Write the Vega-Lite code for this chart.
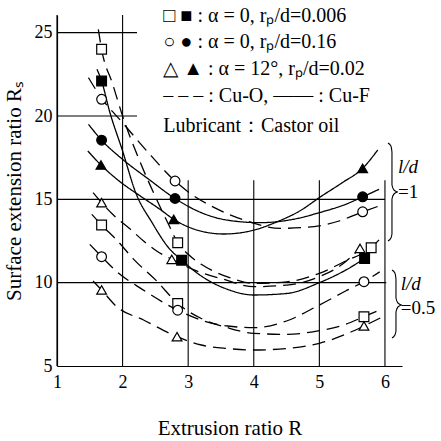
{
  "$schema": "https://vega.github.io/schema/vega-lite/v6.json",
  "width": 345,
  "height": 351,
  "autosize": {"type": "none"},
  "padding": {"left": 57, "top": 15, "right": 39, "bottom": 75},
  "background": "white",
  "config": {
    "view": {"stroke": null},
    "axis": {
      "grid": false, "ticks": false, "domainColor": "black", "domainWidth": 1.2,
      "labelFont": "Liberation Serif", "labelFontSize": 18, "labelColor": "black",
      "titleFont": "Liberation Serif", "titleFontSize": 21, "titleFontWeight": "normal", "titleColor": "black",
      "labelFlush": false
    },
    "text": {"font": "Liberation Serif", "fontSize": 20, "color": "black", "align": "left", "baseline": "middle"}
  },
  "datasets": {
    "grid": [
      {"R": 1, "R2": 1, "Rs": 5, "Rs2": 26.06},
      {"R": 2, "R2": 2, "Rs": 5, "Rs2": 26.06},
      {"R": 3, "R2": 3, "Rs": 5, "Rs2": 16.15},
      {"R": 4, "R2": 4, "Rs": 5, "Rs2": 16.15},
      {"R": 5, "R2": 5, "Rs": 5, "Rs2": 16.15},
      {"R": 6, "R2": 6, "Rs": 5, "Rs2": 16.15},
      {"R": 1, "R2": 2.22, "Rs": 25, "Rs2": 25},
      {"R": 1, "R2": 2.22, "Rs": 20, "Rs2": 20},
      {"R": 1, "R2": 6, "Rs": 15, "Rs2": 15},
      {"R": 1, "R2": 6.02, "Rs": 10, "Rs2": 10}
    ],
    "curves": [
      {"curve": "sq1", "material": "Cu-O", "R": 1.63, "Rs": 25.2},
      {"curve": "sq1", "material": "Cu-O", "R": 1.68, "Rs": 24.0},
      {"curve": "sq1", "material": "Cu-O", "R": 1.85, "Rs": 21.9},
      {"curve": "sq1", "material": "Cu-O", "R": 2.0, "Rs": 20.0},
      {"curve": "sq1", "material": "Cu-O", "R": 2.25, "Rs": 17.4},
      {"curve": "sq1", "material": "Cu-O", "R": 2.53, "Rs": 14.9},
      {"curve": "sq1", "material": "Cu-O", "R": 2.7, "Rs": 13.5},
      {"curve": "sq1", "material": "Cu-O", "R": 2.84, "Rs": 12.4},
      {"curve": "sq1", "material": "Cu-O", "R": 3.0, "Rs": 11.7},
      {"curve": "sq1", "material": "Cu-O", "R": 3.2, "Rs": 11.1},
      {"curve": "sq1", "material": "Cu-O", "R": 3.6, "Rs": 10.35},
      {"curve": "sq1", "material": "Cu-O", "R": 4.0, "Rs": 9.96},
      {"curve": "sq1", "material": "Cu-O", "R": 4.5, "Rs": 10.05},
      {"curve": "sq1", "material": "Cu-O", "R": 5.0, "Rs": 10.56},
      {"curve": "sq1", "material": "Cu-O", "R": 5.4, "Rs": 11.3},
      {"curve": "sq1", "material": "Cu-O", "R": 5.79, "Rs": 12.1},
      {"curve": "sq1", "material": "Cu-O", "R": 5.94, "Rs": 12.7},

      {"curve": "fsq1", "material": "Cu-F", "R": 1.61, "Rs": 22.8},
      {"curve": "fsq1", "material": "Cu-F", "R": 1.68, "Rs": 22.1},
      {"curve": "fsq1", "material": "Cu-F", "R": 1.8, "Rs": 20.3},
      {"curve": "fsq1", "material": "Cu-F", "R": 2.0, "Rs": 17.9},
      {"curve": "fsq1", "material": "Cu-F", "R": 2.2, "Rs": 15.4},
      {"curve": "fsq1", "material": "Cu-F", "R": 2.45, "Rs": 13.6},
      {"curve": "fsq1", "material": "Cu-F", "R": 2.7, "Rs": 12.1},
      {"curve": "fsq1", "material": "Cu-F", "R": 2.9, "Rs": 11.35},
      {"curve": "fsq1", "material": "Cu-F", "R": 3.2, "Rs": 10.4},
      {"curve": "fsq1", "material": "Cu-F", "R": 3.6, "Rs": 9.6},
      {"curve": "fsq1", "material": "Cu-F", "R": 4.0, "Rs": 9.26},
      {"curve": "fsq1", "material": "Cu-F", "R": 4.5, "Rs": 9.35},
      {"curve": "fsq1", "material": "Cu-F", "R": 5.0, "Rs": 10.0},
      {"curve": "fsq1", "material": "Cu-F", "R": 5.4, "Rs": 10.75},
      {"curve": "fsq1", "material": "Cu-F", "R": 5.69, "Rs": 11.45},

      {"curve": "ci1", "material": "Cu-O", "R": 1.48, "Rs": 22.3},
      {"curve": "ci1", "material": "Cu-O", "R": 1.68, "Rs": 21.06},
      {"curve": "ci1", "material": "Cu-O", "R": 2.0, "Rs": 19.6},
      {"curve": "ci1", "material": "Cu-O", "R": 2.37, "Rs": 17.9},
      {"curve": "ci1", "material": "Cu-O", "R": 2.8, "Rs": 16.1},
      {"curve": "ci1", "material": "Cu-O", "R": 3.03, "Rs": 15.36},
      {"curve": "ci1", "material": "Cu-O", "R": 3.4, "Rs": 14.5},
      {"curve": "ci1", "material": "Cu-O", "R": 3.85, "Rs": 13.76},
      {"curve": "ci1", "material": "Cu-O", "R": 4.41, "Rs": 13.26},
      {"curve": "ci1", "material": "Cu-O", "R": 4.92, "Rs": 13.36},
      {"curve": "ci1", "material": "Cu-O", "R": 5.3, "Rs": 13.7},
      {"curve": "ci1", "material": "Cu-O", "R": 5.66, "Rs": 14.25},
      {"curve": "ci1", "material": "Cu-O", "R": 5.91, "Rs": 14.6},

      {"curve": "fci1", "material": "Cu-F", "R": 1.48, "Rs": 19.5},
      {"curve": "fci1", "material": "Cu-F", "R": 1.68, "Rs": 18.55},
      {"curve": "fci1", "material": "Cu-F", "R": 2.0, "Rs": 17.4},
      {"curve": "fci1", "material": "Cu-F", "R": 2.4, "Rs": 16.2},
      {"curve": "fci1", "material": "Cu-F", "R": 2.8, "Rs": 15.05},
      {"curve": "fci1", "material": "Cu-F", "R": 3.2, "Rs": 14.2},
      {"curve": "fci1", "material": "Cu-F", "R": 3.6, "Rs": 13.75},
      {"curve": "fci1", "material": "Cu-F", "R": 4.1, "Rs": 13.6},
      {"curve": "fci1", "material": "Cu-F", "R": 4.6, "Rs": 13.8},
      {"curve": "fci1", "material": "Cu-F", "R": 5.0, "Rs": 14.2},
      {"curve": "fci1", "material": "Cu-F", "R": 5.4, "Rs": 14.7},
      {"curve": "fci1", "material": "Cu-F", "R": 5.66, "Rs": 15.15},
      {"curve": "fci1", "material": "Cu-F", "R": 5.91, "Rs": 15.6},

      {"curve": "ftr1", "material": "Cu-F", "R": 1.47, "Rs": 17.9},
      {"curve": "ftr1", "material": "Cu-F", "R": 1.67, "Rs": 17.06},
      {"curve": "ftr1", "material": "Cu-F", "R": 1.96, "Rs": 16.06},
      {"curve": "ftr1", "material": "Cu-F", "R": 2.27, "Rs": 15.2},
      {"curve": "ftr1", "material": "Cu-F", "R": 2.57, "Rs": 14.4},
      {"curve": "ftr1", "material": "Cu-F", "R": 2.78, "Rs": 13.8},
      {"curve": "ftr1", "material": "Cu-F", "R": 3.1, "Rs": 13.2},
      {"curve": "ftr1", "material": "Cu-F", "R": 3.54, "Rs": 12.92},
      {"curve": "ftr1", "material": "Cu-F", "R": 4.0, "Rs": 13.15},
      {"curve": "ftr1", "material": "Cu-F", "R": 4.36, "Rs": 13.66},
      {"curve": "ftr1", "material": "Cu-F", "R": 4.7, "Rs": 14.3},
      {"curve": "ftr1", "material": "Cu-F", "R": 5.02, "Rs": 15.16},
      {"curve": "ftr1", "material": "Cu-F", "R": 5.35, "Rs": 16.0},
      {"curve": "ftr1", "material": "Cu-F", "R": 5.66, "Rs": 16.86},
      {"curve": "ftr1", "material": "Cu-F", "R": 5.89, "Rs": 17.96},

      {"curve": "tr1", "material": "Cu-O", "R": 1.55, "Rs": 15.4},
      {"curve": "tr1", "material": "Cu-O", "R": 1.68, "Rs": 14.8},
      {"curve": "tr1", "material": "Cu-O", "R": 1.86, "Rs": 14.06},
      {"curve": "tr1", "material": "Cu-O", "R": 2.12, "Rs": 13.2},
      {"curve": "tr1", "material": "Cu-O", "R": 2.32, "Rs": 12.5},
      {"curve": "tr1", "material": "Cu-O", "R": 2.52, "Rs": 11.9},
      {"curve": "tr1", "material": "Cu-O", "R": 2.75, "Rs": 11.4},
      {"curve": "tr1", "material": "Cu-O", "R": 3.1, "Rs": 10.75},
      {"curve": "tr1", "material": "Cu-O", "R": 3.54, "Rs": 10.2},
      {"curve": "tr1", "material": "Cu-O", "R": 4.0, "Rs": 9.76},
      {"curve": "tr1", "material": "Cu-O", "R": 4.5, "Rs": 9.85},
      {"curve": "tr1", "material": "Cu-O", "R": 5.0, "Rs": 10.36},
      {"curve": "tr1", "material": "Cu-O", "R": 5.35, "Rs": 11.1},
      {"curve": "tr1", "material": "Cu-O", "R": 5.62, "Rs": 12.06},

      {"curve": "sq05", "material": "Cu-O", "R": 1.53, "Rs": 14.1},
      {"curve": "sq05", "material": "Cu-O", "R": 1.68, "Rs": 13.46},
      {"curve": "sq05", "material": "Cu-O", "R": 1.91, "Rs": 12.56},
      {"curve": "sq05", "material": "Cu-O", "R": 2.17, "Rs": 11.4},
      {"curve": "sq05", "material": "Cu-O", "R": 2.52, "Rs": 10.1},
      {"curve": "sq05", "material": "Cu-O", "R": 2.84, "Rs": 8.75},
      {"curve": "sq05", "material": "Cu-O", "R": 3.2, "Rs": 7.85},
      {"curve": "sq05", "material": "Cu-O", "R": 3.6, "Rs": 7.3},
      {"curve": "sq05", "material": "Cu-O", "R": 4.0, "Rs": 6.96},
      {"curve": "sq05", "material": "Cu-O", "R": 4.5, "Rs": 6.9},
      {"curve": "sq05", "material": "Cu-O", "R": 5.0, "Rs": 7.12},
      {"curve": "sq05", "material": "Cu-O", "R": 5.4, "Rs": 7.5},
      {"curve": "sq05", "material": "Cu-O", "R": 5.68, "Rs": 7.96},
      {"curve": "sq05", "material": "Cu-O", "R": 5.94, "Rs": 8.4},

      {"curve": "ci05", "material": "Cu-O", "R": 1.5, "Rs": 12.3},
      {"curve": "ci05", "material": "Cu-O", "R": 1.68, "Rs": 11.56},
      {"curve": "ci05", "material": "Cu-O", "R": 1.9, "Rs": 10.7},
      {"curve": "ci05", "material": "Cu-O", "R": 2.3, "Rs": 9.6},
      {"curve": "ci05", "material": "Cu-O", "R": 2.84, "Rs": 8.35},
      {"curve": "ci05", "material": "Cu-O", "R": 3.2, "Rs": 7.75},
      {"curve": "ci05", "material": "Cu-O", "R": 3.6, "Rs": 7.4},
      {"curve": "ci05", "material": "Cu-O", "R": 4.0, "Rs": 7.3},
      {"curve": "ci05", "material": "Cu-O", "R": 4.5, "Rs": 7.7},
      {"curve": "ci05", "material": "Cu-O", "R": 5.0, "Rs": 8.66},
      {"curve": "ci05", "material": "Cu-O", "R": 5.4, "Rs": 9.5},
      {"curve": "ci05", "material": "Cu-O", "R": 5.68, "Rs": 10.06},
      {"curve": "ci05", "material": "Cu-O", "R": 5.92, "Rs": 10.65},

      {"curve": "tr05", "material": "Cu-O", "R": 1.55, "Rs": 10.1},
      {"curve": "tr05", "material": "Cu-O", "R": 1.68, "Rs": 9.56},
      {"curve": "tr05", "material": "Cu-O", "R": 1.91, "Rs": 8.56},
      {"curve": "tr05", "material": "Cu-O", "R": 2.32, "Rs": 7.76},
      {"curve": "tr05", "material": "Cu-O", "R": 2.83, "Rs": 6.76},
      {"curve": "tr05", "material": "Cu-O", "R": 3.2, "Rs": 6.26},
      {"curve": "tr05", "material": "Cu-O", "R": 3.6, "Rs": 6.05},
      {"curve": "tr05", "material": "Cu-O", "R": 4.0, "Rs": 5.96},
      {"curve": "tr05", "material": "Cu-O", "R": 4.5, "Rs": 6.05},
      {"curve": "tr05", "material": "Cu-O", "R": 5.0, "Rs": 6.36},
      {"curve": "tr05", "material": "Cu-O", "R": 5.4, "Rs": 6.9},
      {"curve": "tr05", "material": "Cu-O", "R": 5.68, "Rs": 7.4},
      {"curve": "tr05", "material": "Cu-O", "R": 5.94, "Rs": 7.9}
    ],
    "markers": [
      {"sym": "□", "R": 1.68, "Rs": 24.0},
      {"sym": "■", "R": 1.68, "Rs": 22.1},
      {"sym": "○", "R": 1.68, "Rs": 21.0},
      {"sym": "●", "R": 1.68, "Rs": 18.55},
      {"sym": "▲", "R": 1.67, "Rs": 17.06},
      {"sym": "△", "R": 1.68, "Rs": 14.8},
      {"sym": "□", "R": 1.68, "Rs": 13.46},
      {"sym": "○", "R": 1.68, "Rs": 11.56},
      {"sym": "△", "R": 1.68, "Rs": 9.56},
      {"sym": "○", "R": 2.8, "Rs": 16.1},
      {"sym": "●", "R": 2.8, "Rs": 15.05},
      {"sym": "▲", "R": 2.78, "Rs": 13.8},
      {"sym": "□", "R": 2.84, "Rs": 12.4},
      {"sym": "△", "R": 2.75, "Rs": 11.4},
      {"sym": "■", "R": 2.9, "Rs": 11.35},
      {"sym": "□", "R": 2.84, "Rs": 8.75},
      {"sym": "○", "R": 2.84, "Rs": 8.35},
      {"sym": "△", "R": 2.83, "Rs": 6.76},
      {"sym": "▲", "R": 5.66, "Rs": 16.86},
      {"sym": "●", "R": 5.66, "Rs": 15.15},
      {"sym": "○", "R": 5.66, "Rs": 14.25},
      {"sym": "△", "R": 5.62, "Rs": 12.06},
      {"sym": "□", "R": 5.79, "Rs": 12.1},
      {"sym": "■", "R": 5.69, "Rs": 11.45},
      {"sym": "○", "R": 5.68, "Rs": 10.06},
      {"sym": "□", "R": 5.68, "Rs": 7.96},
      {"sym": "△", "R": 5.68, "Rs": 7.4}
    ],
    "braces": [
      {"brace": "a", "i": 0, "R": 6.046, "Rs": 18.38},
      {"brace": "a", "i": 1, "R": 6.091, "Rs": 18.2},
      {"brace": "a", "i": 2, "R": 6.107, "Rs": 17.84},
      {"brace": "a", "i": 3, "R": 6.107, "Rs": 15.86},
      {"brace": "a", "i": 4, "R": 6.137, "Rs": 15.56},
      {"brace": "a", "i": 5, "R": 6.198, "Rs": 15.44},
      {"brace": "a", "i": 6, "R": 6.137, "Rs": 15.32},
      {"brace": "a", "i": 7, "R": 6.107, "Rs": 15.02},
      {"brace": "a", "i": 8, "R": 6.107, "Rs": 12.92},
      {"brace": "a", "i": 9, "R": 6.091, "Rs": 12.68},
      {"brace": "a", "i": 10, "R": 6.046, "Rs": 12.5},
      {"brace": "b", "i": 0, "R": 6.107, "Rs": 10.76},
      {"brace": "b", "i": 1, "R": 6.152, "Rs": 10.58},
      {"brace": "b", "i": 2, "R": 6.168, "Rs": 10.22},
      {"brace": "b", "i": 3, "R": 6.168, "Rs": 9.08},
      {"brace": "b", "i": 4, "R": 6.198, "Rs": 8.78},
      {"brace": "b", "i": 5, "R": 6.259, "Rs": 8.66},
      {"brace": "b", "i": 6, "R": 6.198, "Rs": 8.54},
      {"brace": "b", "i": 7, "R": 6.168, "Rs": 8.24},
      {"brace": "b", "i": 8, "R": 6.168, "Rs": 7.1},
      {"brace": "b", "i": 9, "R": 6.152, "Rs": 6.86},
      {"brace": "b", "i": 10, "R": 6.107, "Rs": 6.68}
    ]
  },
  "layer": [
    {
      "data": {"name": "grid"},
      "mark": {"type": "rule", "color": "black", "strokeWidth": 1.1},
      "encoding": {
        "x": {"field": "R", "type": "quantitative", "title": "Extrusion ratio R",
              "scale": {"domain": [1, 6.26], "nice": false, "zero": false},
              "axis": {"values": [1, 2, 3, 4, 5, 6], "format": "d", "labelPadding": 7, "titlePadding": 26}},
        "y": {"field": "Rs", "type": "quantitative", "title": "Surface extension ratio Rₛ",
              "scale": {"domain": [5, 26.06], "nice": false, "zero": false},
              "axis": {"values": [5, 10, 15, 20, 25], "format": "d", "labelPadding": 5, "titlePadding": 10}},
        "x2": {"field": "R2"},
        "y2": {"field": "Rs2"}
      }
    },
    {
      "data": {"name": "curves"},
      "mark": {"type": "line", "color": "black", "strokeWidth": 1.3, "interpolate": "monotone", "clip": false},
      "encoding": {
        "x": {"field": "R", "type": "quantitative", "title": "Extrusion ratio R"},
        "y": {"field": "Rs", "type": "quantitative", "title": "Surface extension ratio Rₛ"},
        "detail": {"field": "curve"},
        "strokeDash": {"field": "material", "type": "nominal", "legend": null,
                       "scale": {"domain": ["Cu-O", "Cu-F"], "range": [[13, 7], [1, 0]]}}
      }
    },
    {
      "data": {"name": "braces"},
      "mark": {"type": "line", "color": "black", "strokeWidth": 1.1, "interpolate": "monotone"},
      "encoding": {
        "x": {"field": "R", "type": "quantitative", "title": "Extrusion ratio R"},
        "y": {"field": "Rs", "type": "quantitative", "title": "Surface extension ratio Rₛ"},
        "detail": {"field": "brace"},
        "order": {"field": "i", "type": "quantitative"}
      }
    },
    {
      "data": {"name": "markers"},
      "mark": {"type": "point", "filled": true, "stroke": "black", "strokeWidth": 1.2, "size": 95, "opacity": 1},
      "encoding": {
        "x": {"field": "R", "type": "quantitative", "title": "Extrusion ratio R"},
        "y": {"field": "Rs", "type": "quantitative", "title": "Surface extension ratio Rₛ"},
        "shape": {"field": "sym", "type": "nominal", "legend": null,
                  "scale": {"domain": ["□", "■", "○", "●", "△", "▲"],
                            "range": ["square", "square", "circle", "circle", "triangle-up", "triangle-up"]}},
        "fill": {"field": "sym", "type": "nominal", "legend": null,
                 "scale": {"domain": ["□", "■", "○", "●", "△", "▲"],
                           "range": ["white", "black", "white", "black", "white", "black"]}}
      }
    },
    {"data": {"values": [{"label": "□ ■ : α = 0, rₚ/d=0.006"}]}, "mark": {"type": "text"},
     "encoding": {"text": {"field": "label"}, "x": {"datum": 2.62, "type": "quantitative"}, "y": {"datum": 26.0, "type": "quantitative"}}},
    {"data": {"values": [{"label": "○ ● : α = 0, rₚ/d=0.16"}]}, "mark": {"type": "text"},
     "encoding": {"text": {"field": "label"}, "x": {"datum": 2.62, "type": "quantitative"}, "y": {"datum": 24.42, "type": "quantitative"}}},
    {"data": {"values": [{"label": "△ ▲ : α = 12°, rₚ/d=0.02"}]}, "mark": {"type": "text"},
     "encoding": {"text": {"field": "label"}, "x": {"datum": 2.62, "type": "quantitative"}, "y": {"datum": 22.85, "type": "quantitative"}}},
    {"data": {"values": [{"label": "– – – : Cu-O,   —— : Cu-F"}]}, "mark": {"type": "text"},
     "encoding": {"text": {"field": "label"}, "x": {"datum": 2.62, "type": "quantitative"}, "y": {"datum": 21.2, "type": "quantitative"}}},
    {"data": {"values": [{"label": "Lubricant：Castor oil"}]}, "mark": {"type": "text"},
     "encoding": {"text": {"field": "label"}, "x": {"datum": 2.62, "type": "quantitative"}, "y": {"datum": 19.4, "type": "quantitative"}}},
    {"data": {"values": [{"label": "l/d"}]}, "mark": {"type": "text", "fontStyle": "italic", "fontSize": 19},
     "encoding": {"text": {"field": "label"}, "x": {"datum": 6.2, "type": "quantitative"}, "y": {"datum": 16.95, "type": "quantitative"}}},
    {"data": {"values": [{"label": "=1"}]}, "mark": {"type": "text", "fontSize": 19},
     "encoding": {"text": {"field": "label"}, "x": {"datum": 6.2, "type": "quantitative"}, "y": {"datum": 15.45, "type": "quantitative"}}},
    {"data": {"values": [{"label": "l/d"}]}, "mark": {"type": "text", "fontStyle": "italic", "fontSize": 19},
     "encoding": {"text": {"field": "label"}, "x": {"datum": 6.24, "type": "quantitative"}, "y": {"datum": 9.95, "type": "quantitative"}}},
    {"data": {"values": [{"label": "=0.5"}]}, "mark": {"type": "text", "fontSize": 19},
     "encoding": {"text": {"field": "label"}, "x": {"datum": 6.24, "type": "quantitative"}, "y": {"datum": 8.5, "type": "quantitative"}}}
  ]
}
